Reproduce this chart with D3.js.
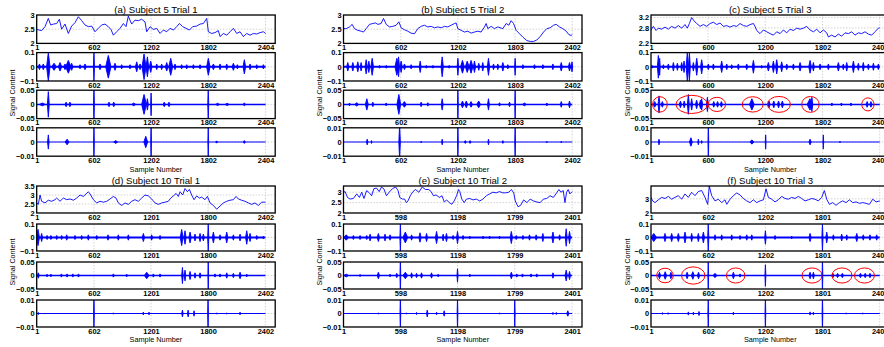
<!DOCTYPE html>
<html>
<head>
<meta charset="utf-8">
<script src="https://cdn.jsdelivr.net/npm/d3@7"></script>
<style>
body { margin: 0; background: #fff; }
text { font-family: "Liberation Sans", Arial, sans-serif; fill: #000; }
</style>
</head>
<body>
<div id="chart"></div>
<script>
var width = 884
var height = 347

////////////////////////////// DATA //////////////////////////////
var titles = ['(a) Subject 5 Trial 1', '(b) Subject 5 Trial 2', '(c) Subject 5 Trial 3',
              '(d) Subject 10 Trial 1', '(e) Subject 10 Trial 2', '(f) Subject 10 Trial 3'];

var xTicks = [[1, 602, 1202, 1802, 2404], [1, 602, 1202, 1803, 2402], [1, 600, 1200, 1802, 2402],
              [1, 602, 1201, 1800, 2402], [1, 598, 1198, 1799, 2401], [1, 602, 1202, 1801, 2402]];
var lastSample = [2404, 2402, 2402, 2402, 2401, 2402];

var topDomains = [[2, 3], [2, 3], [2.2, 3.3], [2, 3.5], [2, 3.3], [2, 3.9]];
var topTicks = [[2, 2.5, 3], [2, 2.5, 3], [2.2, 2.8, 3.2], [2, 2.5, 3, 3.5], [2, 2.5, 3], [2, 3]];

// detail levels 1..3 : symmetric y range and ticks
var detailRange = [0.1, 0.05, 0.01];
var detailTicks = [[-0.1, 0, 0.1], [-0.05, 0, 0.05], [-0.01, 0, 0.01]];

// top trace: [sample, value]
var trendA = [[1,2.49],[53,2.45],[88,2.59],[123,2.88],[148,2.65],[176,2.68],[211,2.7],[239,2.85],[263,2.5],[298,2.68],[333,2.35],[368,2.61],[403,2.73],[438,2.94],[473,2.8],[508,2.65],[543,2.59],[578,2.61],[613,2.41],[648,2.53],[683,2.65],[718,2.68],[753,2.59],[781,2.49],[806,2.29],[841,2.41],[876,2.53],[911,2.7],[939,2.59],[963,2.96],[998,2.68],[1033,2.82],[1068,2.8],[1103,2.85],[1138,2.76],[1156,2.41],[1191,2.59],[1226,2.49],[1261,2.53],[1296,2.35],[1331,2.47],[1366,2.41],[1401,2.53],[1436,2.47],[1471,2.59],[1499,2.7],[1534,2.59],[1569,2.53],[1604,2.47],[1639,2.59],[1681,2.61],[1716,2.68],[1751,2.7],[1786,2.88],[1803,2.41],[1838,2.35],[1873,2.38],[1908,2.45],[1926,2.24],[1961,2.35],[1996,2.29],[2031,2.41],[2066,2.53],[2101,2.35],[2136,2.41],[2171,2.24],[2206,2.35],[2241,2.29],[2276,2.35],[2311,2.33],[2346,2.38],[2381,2.41],[2404,2.35]];
var trendB = [[1,2.52],[29,2.52],[64,2.58],[92,2.67],[116,2.52],[151,2.46],[186,2.43],[211,2.4],[239,2.52],[274,2.67],[309,2.7],[337,2.72],[361,2.67],[396,2.7],[421,2.88],[449,2.67],[484,2.58],[519,2.6],[554,2.64],[582,2.76],[606,2.55],[641,2.48],[676,2.43],[711,2.36],[746,2.34],[781,2.52],[816,2.6],[851,2.64],[886,2.58],[921,2.6],[956,2.55],[991,2.58],[1026,2.55],[1061,2.6],[1096,2.58],[1131,2.64],[1166,2.7],[1184,2.72],[1201,2.52],[1236,2.46],[1271,2.4],[1306,2.43],[1341,2.36],[1376,2.4],[1411,2.43],[1446,2.4],[1481,2.58],[1499,2.7],[1516,2.52],[1551,2.6],[1586,2.52],[1621,2.58],[1674,2.52],[1709,2.7],[1737,2.64],[1761,2.8],[1786,2.7],[1814,2.46],[1849,2.34],[1884,2.22],[1926,2.1],[1961,2.07],[1996,2.07],[2031,2.12],[2066,2.24],[2101,2.4],[2136,2.52],[2171,2.55],[2206,2.64],[2234,2.67],[2269,2.58],[2304,2.52],[2339,2.43],[2367,2.31],[2391,2.28],[2402,2.31]];
var trendC = [[1,2.72],[26,2.86],[54,2.7],[78,2.79],[113,2.75],[148,2.83],[183,2.75],[218,2.86],[253,2.79],[288,2.89],[323,2.79],[358,2.93],[382,2.79],[404,2.97],[428,3.2],[453,3.07],[481,2.97],[516,2.86],[551,2.93],[586,2.86],[621,2.97],[656,3.02],[691,2.93],[726,2.99],[761,2.86],[796,2.89],[831,2.83],[866,2.89],[901,2.86],[936,2.97],[971,2.89],[1006,2.86],[1041,2.93],[1076,2.97],[1093,2.86],[1111,2.7],[1146,2.58],[1181,2.72],[1216,2.65],[1251,2.58],[1286,2.52],[1321,2.65],[1356,2.58],[1391,2.72],[1426,2.61],[1461,2.75],[1496,2.7],[1531,2.79],[1566,2.75],[1601,2.79],[1636,2.86],[1671,2.72],[1706,2.65],[1741,2.75],[1776,2.61],[1811,2.72],[1846,2.61],[1863,2.45],[1898,2.52],[1933,2.45],[1968,2.56],[2003,2.48],[2038,2.61],[2073,2.58],[2108,2.65],[2143,2.52],[2178,2.61],[2213,2.58],[2248,2.65],[2283,2.56],[2318,2.52],[2353,2.65],[2388,2.79],[2402,2.8]];
var trendD = [[1,2.56],[18,2.48],[36,3.0],[53,2.65],[88,2.56],[123,2.71],[158,2.65],[193,2.74],[211,2.83],[246,2.65],[281,2.83],[316,2.74],[351,2.78],[386,2.71],[421,2.83],[456,3.0],[491,2.92],[519,3.06],[543,3.18],[561,3.06],[596,2.74],[631,2.56],[666,2.65],[701,2.6],[736,2.65],[771,2.78],[806,2.92],[834,2.83],[858,2.56],[893,2.42],[928,2.56],[963,2.48],[998,2.65],[1033,2.74],[1068,2.65],[1103,2.83],[1138,3.0],[1173,2.95],[1208,2.78],[1243,2.56],[1278,2.48],[1313,2.56],[1348,2.6],[1383,2.65],[1408,2.83],[1436,2.95],[1464,3.09],[1488,2.92],[1506,3.18],[1534,3.0],[1558,3.36],[1583,3.18],[1604,3.31],[1628,3.0],[1653,2.74],[1681,2.95],[1709,2.83],[1733,2.88],[1768,2.74],[1793,2.92],[1821,2.56],[1856,2.42],[1891,2.21],[1926,2.39],[1961,2.56],[1996,2.65],[2031,2.71],[2066,2.74],[2094,2.92],[2118,2.78],[2153,2.71],[2188,2.65],[2223,2.56],[2258,2.48],[2293,2.56],[2328,2.42],[2363,2.6],[2402,2.6]];
var trendE = [[1,3.0],[18,3.03],[43,2.75],[70,2.67],[105,2.7],[140,2.92],[168,2.75],[192,3.0],[216,2.7],[244,3.08],[272,2.97],[296,2.83],[320,3.17],[348,3.2],[376,3.03],[400,3.25],[424,3.17],[452,2.83],[480,3.0],[515,3.17],[549,3.25],[574,3.08],[591,2.75],[619,2.67],[643,2.67],[660,2.5],[678,2.58],[702,2.83],[730,3.03],[757,3.13],[792,3.0],[827,3.25],[862,3.13],[896,3.13],[921,3.03],[945,2.83],[973,2.87],[1007,2.75],[1035,2.83],[1059,2.53],[1084,2.63],[1111,2.5],[1139,2.42],[1163,2.58],[1188,2.83],[1209,3.13],[1222,3.03],[1243,2.67],[1268,2.5],[1292,2.67],[1327,2.7],[1361,2.63],[1396,2.67],[1431,2.58],[1465,2.67],[1500,2.83],[1535,2.92],[1569,3.0],[1604,2.97],[1639,3.03],[1674,2.97],[1701,2.97],[1736,3.0],[1764,3.13],[1788,2.97],[1805,2.58],[1833,2.3],[1861,2.37],[1892,2.63],[1927,2.5],[1961,2.67],[1996,2.58],[2031,2.53],[2066,2.5],[2100,2.67],[2135,2.7],[2170,2.83],[2204,2.75],[2239,2.97],[2263,3.13],[2284,3.0],[2308,3.08],[2326,2.5],[2343,3.0],[2360,3.13],[2378,2.92],[2401,3.03]];
var trendF = [[1,3.1],[18,2.85],[43,2.73],[78,2.93],[113,3.1],[148,3.02],[183,3.17],[218,2.97],[253,3.1],[288,3.22],[323,2.97],[358,3.34],[393,3.1],[428,3.46],[463,3.22],[498,3.51],[533,3.58],[568,3.1],[596,2.61],[613,3.9],[638,3.22],[673,2.85],[708,2.97],[743,2.73],[778,2.93],[796,2.61],[831,2.97],[866,3.22],[901,3.41],[936,3.27],[971,3.02],[1006,2.85],[1041,2.73],[1076,2.93],[1111,2.73],[1146,2.85],[1181,2.93],[1209,3.7],[1233,3.1],[1268,2.97],[1303,2.78],[1338,2.93],[1373,3.17],[1408,3.02],[1443,2.97],[1478,3.1],[1513,3.02],[1548,3.17],[1583,3.02],[1618,2.85],[1653,2.93],[1688,3.02],[1723,2.97],[1758,2.85],[1793,3.1],[1821,3.58],[1846,2.97],[1874,2.61],[1909,2.73],[1944,2.54],[1979,2.73],[2014,2.85],[2049,2.73],[2084,2.93],[2119,2.73],[2154,2.78],[2189,2.68],[2224,2.73],[2259,2.68],[2294,2.61],[2329,2.97],[2364,2.78],[2402,2.85]];

// detail bursts: [sample, half width in samples, amplitude]
var a2 = [[30,12,0.02],[70,12,0.02],[123,18,0.1],[183,25,0.025],[246,18,0.03],[298,14,0.02],[333,28,0.045],[368,14,0.025],[456,10,0.015],[508,14,0.02],[602,6,0.1],[666,14,0.02],[753,28,0.08],[823,14,0.025],[893,10,0.015],[981,10,0.015],[1051,14,0.035],[1086,10,0.02],[1128,21,0.09],[1163,14,0.07],[1198,14,0.04],[1261,10,0.02],[1313,10,0.02],[1366,14,0.03],[1408,21,0.06],[1453,10,0.02],[1523,10,0.015],[1576,10,0.015],[1646,10,0.015],[1716,10,0.015],[1803,18,0.06],[1856,14,0.02],[1926,10,0.02],[1996,10,0.02],[2066,14,0.025],[2108,10,0.015],[2181,14,0.05],[2241,10,0.02],[2311,10,0.015],[2381,10,0.015]];
var a3 = [[60,30,0.005],[123,10,0.045],[310,12,0.008],[350,12,0.008],[602,5,0.06],[760,12,0.008],[810,12,0.008],[1020,20,0.005],[1128,25,0.035],[1163,10,0.02],[1202,5,0.04],[1340,12,0.008],[1390,12,0.008],[1802,5,0.06],[1900,20,0.004],[2000,20,0.004],[2181,15,0.005]];
var a4 = [[123,8,0.005],[320,20,0.002],[602,4,0.012],[830,20,0.001],[1146,20,0.004],[1202,4,0.012],[1802,4,0.012],[1890,10,0.0008],[2181,10,0.001]];

var b2 = [[46,12,0.03],[99,12,0.03],[151,12,0.035],[186,10,0.03],[239,12,0.05],[267,10,0.04],[302,14,0.06],[380,10,0.01],[450,10,0.01],[561,20,0.06],[579,10,0.07],[606,12,0.04],[641,12,0.02],[711,10,0.015],[806,10,0.04],[870,10,0.01],[940,10,0.01],[1037,12,0.07],[1110,10,0.01],[1202,8,0.06],[1250,20,0.045],[1300,20,0.04],[1340,20,0.045],[1376,12,0.04],[1421,10,0.025],[1463,10,0.03],[1523,12,0.06],[1576,10,0.02],[1621,10,0.02],[1674,12,0.03],[1726,10,0.015],[1803,6,0.06],[1884,10,0.015],[2006,10,0.015],[2094,10,0.015],[2199,10,0.02],[2287,12,0.03],[2374,12,0.03],[2400,8,0.035]];
var b3 = [[64,10,0.005],[140,20,0.006],[246,15,0.02],[309,10,0.008],[449,10,0.005],[582,20,0.035],[640,20,0.01],[816,10,0.008],[886,10,0.006],[1037,10,0.02],[1202,4,0.06],[1250,15,0.012],[1290,15,0.012],[1340,15,0.01],[1420,20,0.012],[1523,10,0.02],[1639,10,0.006],[1744,10,0.008],[1803,4,0.06],[1900,20,0.005],[2136,10,0.005],[2287,10,0.01],[2374,10,0.012]];
var b4 = [[250,8,0.002],[295,5,0.001],[590,8,0.012],[816,5,0.0005],[1037,6,0.002],[1202,4,0.012],[1280,10,0.001],[1330,10,0.001],[1523,6,0.002],[1674,6,0.001],[1803,4,0.012],[2136,5,0.0005],[2287,5,0.0005]];

var c2 = [[10,15,0.01],[78,10,0.08],[92,6,0.06],[131,10,0.015],[183,10,0.02],[236,10,0.03],[278,10,0.025],[323,10,0.03],[348,10,0.04],[382,12,0.1],[404,10,0.1],[446,10,0.03],[481,12,0.06],[533,12,0.05],[603,10,0.02],[656,10,0.02],[743,12,0.04],[796,10,0.02],[848,10,0.015],[918,10,0.02],[1006,10,0.02],[1076,12,0.045],[1163,10,0.01],[1233,12,0.03],[1286,12,0.04],[1321,12,0.05],[1373,12,0.035],[1426,10,0.02],[1496,10,0.02],[1566,12,0.03],[1671,14,0.045],[1706,10,0.03],[1776,10,0.02],[1863,10,0.02],[1968,12,0.03],[2020,10,0.02],[2056,10,0.03],[2126,12,0.04],[2178,10,0.025],[2230,10,0.03],[2283,10,0.02],[2336,10,0.025],[2388,10,0.02]];
var c3 = [[40,15,0.01],[85,10,0.03],[120,12,0.01],[310,12,0.012],[350,10,0.012],[393,10,0.035],[428,10,0.02],[480,12,0.015],[520,12,0.015],[533,10,0.02],[593,10,0.025],[660,12,0.01],[700,12,0.01],[740,12,0.01],[1060,25,0.02],[1240,12,0.012],[1290,12,0.012],[1340,12,0.012],[1380,12,0.012],[1670,30,0.02],[1690,10,0.025],[1900,10,0.005],[2000,10,0.005],[2100,10,0.005],[2270,12,0.01],[2310,12,0.01]];
var c4 = [[85,6,0.002],[420,15,0.003],[498,6,0.002],[533,5,0.001],[603,4,0.012],[1060,20,0.0015],[1205,4,0.005],[1671,12,0.002],[1810,4,0.005],[1985,5,0.0005]];

var d2 = [[15,15,0.06],[53,10,0.03],[110,12,0.015],[150,12,0.015],[211,10,0.015],[263,10,0.015],[316,10,0.02],[403,10,0.015],[473,10,0.015],[543,10,0.02],[631,10,0.015],[750,10,0.02],[858,10,0.02],[963,10,0.02],[1121,12,0.03],[1208,10,0.02],[1296,10,0.015],[1523,15,0.06],[1558,12,0.05],[1611,12,0.04],[1663,10,0.025],[1716,10,0.03],[1751,10,0.025],[1802,6,0.1],[1856,12,0.04],[1926,10,0.02],[1996,12,0.04],[2066,10,0.02],[2136,10,0.025],[2206,12,0.05],[2241,10,0.03],[2311,10,0.015],[2381,10,0.01]];
var d3s = [[18,10,0.01],[110,10,0.005],[150,10,0.005],[260,10,0.006],[320,10,0.006],[380,10,0.006],[440,10,0.006],[806,10,0.006],[946,10,0.005],[1156,25,0.012],[1226,10,0.006],[1296,10,0.006],[1531,8,0.03],[1558,8,0.02],[1611,10,0.015],[1663,10,0.01],[1716,10,0.01],[1802,4,0.06],[1873,10,0.006],[1926,10,0.006],[1996,10,0.01],[2066,10,0.008],[2136,12,0.012],[2206,10,0.005]];
var d4 = [[18,5,0.0008],[602,4,0.012],[806,5,0.0005],[1120,8,0.001],[1180,8,0.001],[1531,8,0.0025],[1591,8,0.0025],[1653,6,0.002],[1800,4,0.012],[1891,5,0.0005],[1996,5,0.0005],[2136,6,0.001]];

var e2 = [[30,25,0.02],[105,10,0.015],[175,10,0.015],[245,10,0.015],[280,10,0.025],[367,12,0.03],[437,10,0.025],[490,10,0.02],[598,5,0.1],[650,25,0.04],[716,10,0.02],[804,12,0.035],[873,10,0.03],[978,12,0.045],[1047,10,0.025],[1082,10,0.03],[1152,10,0.015],[1198,10,0.045],[1256,10,0.015],[1327,10,0.01],[1466,10,0.01],[1535,10,0.01],[1640,10,0.01],[1763,12,0.045],[1815,10,0.015],[1885,10,0.015],[1954,10,0.02],[2024,10,0.02],[2094,10,0.03],[2200,12,0.04],[2270,10,0.02],[2339,10,0.065],[2374,10,0.045]];
var e3 = [[30,25,0.005],[175,10,0.004],[367,12,0.012],[490,10,0.005],[560,10,0.008],[598,4,0.06],[650,25,0.012],[716,10,0.01],[768,10,0.008],[820,10,0.01],[925,10,0.01],[995,10,0.005],[1198,6,0.025],[1327,10,0.005],[1763,12,0.012],[1820,10,0.006],[1880,10,0.006],[1970,10,0.006],[2030,10,0.006],[2200,10,0.01],[2339,12,0.02],[2374,10,0.015]];
var e4 = [[367,5,0.0005],[598,4,0.012],[660,5,0.0005],[768,5,0.0008],[880,8,0.0025],[978,5,0.001],[1058,8,0.002],[1198,4,0.012],[1640,5,0.0005],[1799,4,0.012],[2200,5,0.0008],[2235,5,0.0008],[2356,12,0.002]];

var f2 = [[30,30,0.03],[148,12,0.03],[218,12,0.03],[288,12,0.03],[358,12,0.04],[428,10,0.03],[498,10,0.03],[551,12,0.04],[602,6,0.1],[673,10,0.02],[743,10,0.02],[848,10,0.02],[936,10,0.015],[1006,10,0.02],[1059,10,0.02],[1202,8,0.05],[1303,10,0.015],[1478,10,0.01],[1671,12,0.03],[1801,6,0.1],[1846,10,0.04],[1916,10,0.02],[2003,10,0.025],[2056,10,0.02],[2161,12,0.03],[2230,10,0.02],[2300,10,0.02],[2370,10,0.02]];
var f3 = [[90,12,0.012],[150,15,0.014],[210,12,0.012],[380,12,0.012],[440,15,0.014],[500,12,0.012],[602,4,0.06],[673,20,0.008],[866,12,0.012],[936,10,0.006],[1202,5,0.04],[1671,12,0.012],[1706,10,0.012],[1801,4,0.06],[1910,12,0.008],[1960,12,0.008],[2010,12,0.008],[2200,12,0.008],[2250,12,0.008],[2300,12,0.008]];
var f4 = [[120,10,0.0005],[180,10,0.0005],[393,6,0.0012],[446,6,0.001],[505,6,0.0015],[602,4,0.012],[866,6,0.001],[1202,4,0.012],[1671,6,0.0012],[1706,6,0.001],[1801,4,0.012],[2049,5,0.0005],[2224,5,0.0005]];

// red rings in level 2 of (c) and (f): [sample, half width in samples, half height]
var ringsC = [[95,77,0.027],[428,165,0.032],[693,91,0.025],[1069,110,0.027],[1344,121,0.028],[1675,92,0.028],[2278,65,0.023]];
var ringsF = [[148,87,0.027],[444,123,0.032],[890,97,0.028],[1691,105,0.028],[2006,105,0.028],[2242,105,0.028]];

var trends = [trendA, trendB, trendC, trendD, trendE, trendF];
var details = [[a2, a3, a4], [b2, b3, b4], [c2, c3, c4], [d2, d3s, d4], [e2, e3, e4], [f2, f3, f4]];
var rings = [null, null, ringsC, null, null, ringsF];

////////////////////////////// LAYOUT //////////////////////////////
var xDomain = [1, 2505];
var boxW = 238.5;
var panelLeft = [36.7, 343.5, 651];
var rowTop = [15, 186];
var subStep = [37.6, 38];
var subH = [28.4, 27];
var titleY = [13, 183.5];
var xlabelY = [171.5, 342];
var ylabelY = [93, 262];
var baseWidth = [2, 1.5, 1];

var svg = d3.select('#chart')
            .append('svg')
            .attr('width', width)
            .attr('height', height);

var defs = svg.append('defs');
var fmt = d3.format('');

titles.forEach(function (title, i) {
    var col = i % 3, row = Math.floor(i / 3);
    var left = panelLeft[col];
    var x = d3.scaleLinear().domain(xDomain).range([left, left + boxW]);
    var g = svg.append('g').attr('class', 'panel');

    g.append('text')
     .attr('x', left + boxW / 2)
     .attr('y', titleY[row])
     .attr('text-anchor', 'middle')
     .style('font-size', '9.6px')
     .text(title);

    g.append('text')
     .attr('x', left + boxW / 2)
     .attr('y', xlabelY[row])
     .attr('text-anchor', 'middle')
     .style('font-size', '7.3px')
     .text('Sample Number');

    g.append('text')
     .attr('transform', 'translate(' + (left - 21.5) + ',' + ylabelY[row] + ') rotate(-90)')
     .attr('text-anchor', 'middle')
     .style('font-size', '7.2px')
     .text('Signal Content');

    for (var k = 0; k < 4; k++) {
        var top = rowTop[row] + k * subStep[row];
        var h = subH[row];
        var y, yt;
        if (k === 0) {
            y = d3.scaleLinear().domain(topDomains[i]).range([top + h, top]);
            yt = topTicks[i];
        } else {
            var r = detailRange[k - 1];
            y = d3.scaleLinear().domain([-r, r]).range([top + h, top]);
            yt = detailTicks[k - 1];
        }

        var clipId = 'clip-' + i + '-' + k;
        defs.append('clipPath').attr('id', clipId)
            .append('rect')
            .attr('x', left).attr('y', top)
            .attr('width', boxW).attr('height', h);

        var sub = g.append('g');
        var plot = sub.append('g').attr('clip-path', 'url(#' + clipId + ')');

        // dotted grid
        plot.selectAll('.vgrid')
            .data(xTicks[i].slice(1))
            .enter().append('line')
            .attr('x1', function (d) { return x(d); })
            .attr('x2', function (d) { return x(d); })
            .attr('y1', top).attr('y2', top + h)
            .attr('stroke', '#c8c8c8')
            .attr('stroke-width', 0.8)
            .attr('stroke-dasharray', '1.5,1.5');
        plot.selectAll('.hgrid')
            .data(yt)
            .enter().append('line')
            .attr('x1', left).attr('x2', left + boxW)
            .attr('y1', function (d) { return y(d); })
            .attr('y2', function (d) { return y(d); })
            .attr('stroke', '#c8c8c8')
            .attr('stroke-width', 0.8)
            .attr('stroke-dasharray', '1.5,1.5');

        if (k === 0) {
            var line = d3.line()
                         .x(function (d) { return x(d[0]); })
                         .y(function (d) { return y(d[1]); });
            plot.append('path')
                .datum(trends[i])
                .attr('d', line)
                .attr('fill', 'none')
                .attr('stroke', '#0000ff')
                .attr('stroke-width', 0.9);
        } else {
            plot.append('line')
                .attr('x1', x(1)).attr('x2', x(lastSample[i]))
                .attr('y1', y(0)).attr('y2', y(0))
                .attr('stroke', '#0000ff')
                .attr('stroke-width', baseWidth[k - 1]);

            plot.selectAll('.burst')
                .data(details[i][k - 1])
                .enter().append('path')
                .attr('class', 'burst')
                .attr('d', function (d) {
                    return 'M' + x(d[0] - d[1]) + ',' + y(0) +
                           'L' + x(d[0]) + ',' + y(d[2]) +
                           'L' + x(d[0] + d[1]) + ',' + y(0) +
                           'L' + x(d[0]) + ',' + y(-d[2]) + 'Z';
                })
                .attr('fill', '#0000ff')
                .attr('stroke', '#0000ff')
                .attr('stroke-width', 0.9);

            if (k === 2 && rings[i]) {
                sub.selectAll('.ring')
                   .data(rings[i])
                   .enter().append('ellipse')
                   .attr('cx', function (d) { return x(d[0]); })
                   .attr('cy', y(0))
                   .attr('rx', function (d) { return x(d[0] + d[1]) - x(d[0]); })
                   .attr('ry', function (d) { return y(0) - y(d[2]); })
                   .attr('fill', 'none')
                   .attr('stroke', '#ff0000')
                   .attr('stroke-width', 1);
            }
        }

        // axes (labels only)
        var xa = sub.append('g')
                    .attr('transform', 'translate(0,' + (top + h) + ')')
                    .call(d3.axisBottom(x).tickValues(xTicks[i]).tickSize(0).tickPadding(1.5).tickFormat(fmt));
        var ya = sub.append('g')
                    .attr('transform', 'translate(' + left + ',0)')
                    .call(d3.axisLeft(y).tickValues(yt).tickSize(0).tickPadding(2).tickFormat(fmt));
        [xa, ya].forEach(function (a) {
            a.select('.domain').remove();
            a.selectAll('text')
             .style('font-family', '"Liberation Sans", Arial, sans-serif')
             .style('font-size', '7.4px')
             .style('font-weight', 'bold')
             .attr('fill', '#000');
        });

        sub.append('rect')
           .attr('x', left).attr('y', top)
           .attr('width', boxW).attr('height', h)
           .attr('fill', 'none')
           .attr('stroke', '#000')
           .attr('stroke-width', 1.3);
    }
});
</script>
</body>
</html>
